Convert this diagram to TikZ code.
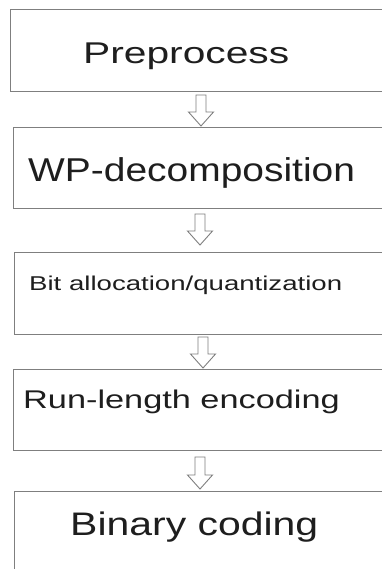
\documentclass[tikz,border=0pt]{standalone}
\usepackage{fontspec}
\setmainfont{Liberation Sans}
\usetikzlibrary{calc}
\definecolor{boxline}{HTML}{7F7F7F}
\definecolor{txt}{HTML}{1E1E1E}
\tikzset{
  stage/.style={draw=boxline, line width=1pt, fill=none, rectangle, inner sep=0pt, anchor=north west, minimum width=440pt},
  lbl/.style={text=txt, inner sep=0pt, anchor=base west},
  blockarrow/.style={draw=boxline, line width=0.9pt, fill=white, line join=miter}
}
\newcommand{\blockarr}[5]{%
  \draw[blockarrow] let \p1=(#2.south), \p2=(#3.north) in
    ({#1pt-5pt},{\y1-#4pt}) -- ({#1pt+5pt},{\y1-#4pt}) -- ({#1pt+5pt},{\y2+#5pt+14pt})
    -- ({#1pt+12.5pt},{\y2+#5pt+14pt}) -- ({#1pt},{\y2+#5pt}) -- ({#1pt-12.5pt},{\y2+#5pt+14pt})
    -- ({#1pt-5pt},{\y2+#5pt+14pt}) -- cycle;}
\begin{document}
\begin{tikzpicture}[x=1pt,y=-1pt]
\useasboundingbox (0,0) rectangle (382,569);
\clip (0,0) rectangle (382,569);
\fill[white] (0,0) rectangle (382,569);
\node[stage, minimum height=82pt] (b1) at (10,9) {};
\node[stage, minimum height=81pt] (b2) at (13,127) {};
\node[stage, minimum height=82pt] (b3) at (14,252) {};
\node[stage, minimum height=81pt] (b4) at (13,369) {};
\node[stage, minimum height=140pt] (b5) at (14,491) {};
\node[lbl] (t1) at (83,63.3) {\fontsize{30}{36}\selectfont\scalebox{1.358}[1]{Preprocess}};
\node[lbl] (t2) at (28,181.7) {\fontsize{33}{40}\selectfont\scalebox{1.18}[1]{WP-decomposition}};
\node[lbl] (t3) at (29,290.7) {\fontsize{20}{24}\selectfont\scalebox{1.38}[1]{Bit allocation/quantization}};
\node[lbl] (t4) at (23,408) {\fontsize{25.6}{30}\selectfont\scalebox{1.34}[1]{Run-length encoding}};
\node[lbl] (t5) at (70,535) {\fontsize{32.6}{39}\selectfont\scalebox{1.256}[1]{Binary coding}};
\blockarr{201}{b1}{b2}{3}{1}
\blockarr{200}{b2}{b3}{5}{7}
\blockarr{203}{b3}{b4}{2}{1}
\blockarr{200}{b4}{b5}{6}{2}
\end{tikzpicture}
\end{document}
